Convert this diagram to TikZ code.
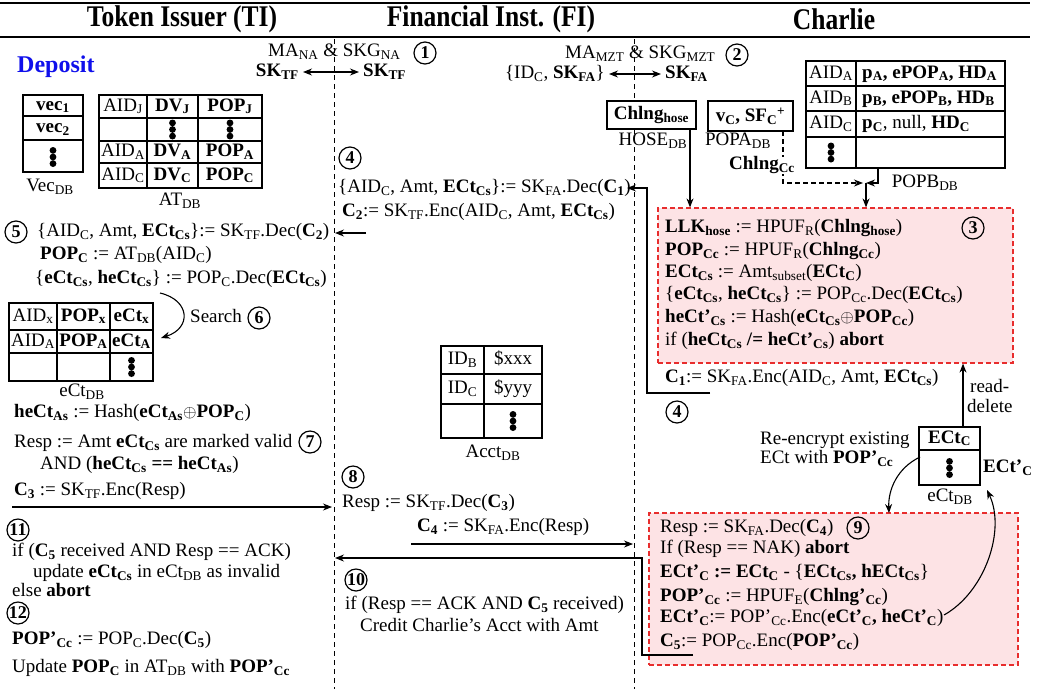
\documentclass[tikz,border=0pt]{standalone}
\usepackage{fontspec}
\setmainfont{Liberation Serif}
\newfontfamily\hdfont[FakeStretch=0.85]{Liberation Serif}
\usetikzlibrary{arrows.meta}
\definecolor{boxpink}{RGB}{253,227,229}
\definecolor{boxred}{RGB}{232,45,45}
\definecolor{depblue}{RGB}{15,15,235}
\newcommand\sbx[1]{\textsubscript{#1}}
\newcommand\bd[1]{\textbf{#1}}
\newcommand\fsz{\fontsize{19}{22}\selectfont}
\tikzset{
 txt/.style={anchor=west,inner sep=0pt,text height=13pt,text depth=4pt,font=\fsz},
 ctxt/.style={txt,anchor=center},
 etxt/.style={txt,anchor=east},
 hdr/.style={inner sep=0pt,font=\hdfont\bfseries\fontsize{30}{32}\selectfont},
 circ/.style={circle,draw,line width=1.2pt,inner sep=0pt,minimum size=22pt,font=\bfseries\fontsize{18}{18}\selectfont},
 conn/.style={line width=1.1pt,-{Stealth[length=9pt,width=7pt]}},
 dconn/.style={line width=1.1pt,{Stealth[length=9pt,width=7pt]}-{Stealth[length=9pt,width=7pt]},shorten <=4pt,shorten >=4pt},
 tbl/.style={line width=1.1pt},
 lane/.style={line width=0.9pt,dash pattern=on 5pt off 4pt},
 redbox/.style={draw=boxred,fill=boxpink,line width=1.2pt,dash pattern=on 5pt off 3pt,inner sep=0pt},
 dbbox/.style={draw,line width=1.1pt,fill=white,inner sep=0pt,font=\fsz},
 bigdots/.pic={\fill (0,-6.6) circle (3.4pt); \fill (0,0) circle (3.4pt); \fill (0,6.6) circle (3.4pt);}
}
\begin{document}
\begin{tikzpicture}[x=1pt,y=-1pt]
\useasboundingbox (0,0) rectangle (1043,689);
% header
\draw[line width=2.5pt] (0,3) -- (1030,3);
\draw[line width=2.5pt] (0,37) -- (1030,37);
\node[hdr] (hTI) at (182,19) {Token Issuer (TI)};
\node[hdr] (hFI) at (491,19) {Financial Inst. (FI)};
\node[hdr] (hCH) at (834,19) {Charlie};
% lanes
\draw[lane] (334,39) -- (334,689);
\draw[lane] (634,39) -- (634,689);
% top keys
\node[txt] (mana) at (268,52) {MA\sbx{NA} \& SKG\sbx{NA}};
\node[circ] (c1) at (425,53) {1};
\node[etxt] (sktfL) at (299,72) {\bd{SK\sbx{TF}}};
\node[txt] (sktfR) at (363,72) {\bd{SK\sbx{TF}}};
\draw[dconn] (sktfL) -- (sktfR);
\node[txt] (mamzt) at (565,54) {MA\sbx{MZT} \& SKG\sbx{MZT}};
\node[circ] (c2) at (737,55) {2};
\node[etxt] (idc) at (605,74) {\{ID\sbx{C}, \bd{SK\sbx{FA}}\}};
\node[txt] (skfa) at (665,74) {\bd{SK\sbx{FA}}};
\draw[dconn] (idc) -- (skfa);
% deposit
\node[anchor=west,inner sep=0pt,font=\bfseries\fontsize{24}{26}\selectfont,text=depblue] (dep) at (17,67) {Deposit};
% Vec DB
\draw[tbl] (23,95) rectangle (83,172) (23,116) -- (83,116) (23,140) -- (83,140);
\node[ctxt] (v1) at (53,105.5) {\bd{vec\sbx{1}}};
\node[ctxt] (v2) at (53,128) {\bd{vec\sbx{2}}};
\pic at (53,157) {bigdots};
\node[ctxt] (vlbl) at (50,187) {Vec\sbx{DB}};
% AT DB
\draw[tbl] (99,95) rectangle (262,188) (99,118) -- (262,118) (99,141) -- (262,141) (99,163) -- (262,163)
  (147,95) -- (147,188) (198,95) -- (198,188);
\node[ctxt] (a11) at (123,106.5) {AID\sbx{J}};
\node[ctxt] (a12) at (172.5,106.5) {\bd{DV\sbx{J}}};
\node[ctxt] (a13) at (230,106.5) {\bd{POP\sbx{J}}};
\pic at (172.5,129.5) {bigdots};
\pic at (230,129.5) {bigdots};
\node[ctxt] (a31) at (123,152) {AID\sbx{A}};
\node[ctxt] (a32) at (172.5,152) {\bd{DV\sbx{A}}};
\node[ctxt] (a33) at (230,152) {\bd{POP\sbx{A}}};
\node[ctxt] (a41) at (123,175.5) {AID\sbx{C}};
\node[ctxt] (a42) at (172.5,175.5) {\bd{DV\sbx{C}}};
\node[ctxt] (a43) at (230,175.5) {\bd{POP\sbx{C}}};
\node[ctxt] (alby) at (180,201) {AT\sbx{DB}};
% step 4 (FI)
\node[circ] (c4a) at (350,158) {4};
\node[txt] (m41) at (338,188) {\{AID\sbx{C}, Amt, \bd{ECt\sbx{Cs}}\}:= SK\sbx{FA}.Dec(\bd{C\sbx{1}})};
\node[txt] (m42) at (342,212) {\bd{C\sbx{2}}:= SK\sbx{TF}.Enc(AID\sbx{C}, Amt, \bd{ECt\sbx{Cs}})};
\coordinate (c2s) at (366,233); \coordinate (c2e) at (335,233);
\draw[conn] (c2s) -- (c2e);
% step 5 (TI)
\node[circ] (c5) at (16,232) {5};
\node[txt] (l51) at (37,232) {\{AID\sbx{C}, Amt, \bd{ECt\sbx{Cs}}\}:= SK\sbx{TF}.Dec(\bd{C\sbx{2}})};
\node[txt] (l52) at (40,255) {\bd{POP\sbx{C}} := AT\sbx{DB}(AID\sbx{C})};
\node[txt] (l53) at (35,279) {\{\bd{eCt\sbx{Cs}}, \bd{heCt\sbx{Cs}}\} := POP\sbx{C}.Dec(\bd{ECt\sbx{Cs}})};
\coordinate (s1) at (160,293); \coordinate (s2) at (161,338);
\draw[conn] (s1) .. controls (190,300) and (192,328) .. (s2);
\node[txt] (srch) at (190,318) {Search};
\node[circ] (c6) at (259,318) {6};
% eCt DB (TI)
\draw[tbl] (9,303) rectangle (153,381) (9,330) -- (153,330) (9,353) -- (153,353) (57,303) -- (57,381) (110,303) -- (110,381);
\node[ctxt] (e11) at (33,316.5) {AID\sbx{x}};
\node[ctxt] (e12) at (83.5,316.5) {\bd{POP\sbx{x}}};
\node[ctxt] (e13) at (131.5,316.5) {\bd{eCt\sbx{x}}};
\node[ctxt] (e21) at (33,341.5) {AID\sbx{A}};
\node[ctxt] (e22) at (83.5,341.5) {\bd{POP\sbx{A}}};
\node[ctxt] (e23) at (131.5,341.5) {\bd{eCt\sbx{A}}};
\pic at (131.5,367) {bigdots};
\node[ctxt] (elbl) at (82,392) {eCt\sbx{DB}};
% steps 6-7
\node[txt] (l61) at (14,413) {\bd{heCt\sbx{As}} := Hash(\bd{eCt\sbx{As}}$\oplus$\bd{POP\sbx{C}})};
\node[txt] (l71) at (14,443) {Resp := Amt \bd{eCt\sbx{Cs}} are marked valid};
\node[circ] (c7) at (310,442) {7};
\node[txt] (l72) at (40,465) {AND (\bd{heCt\sbx{Cs} == heCt\sbx{As}})};
\node[txt] (l73) at (14,491) {\bd{C\sbx{3}} := SK\sbx{TF}.Enc(Resp)};
\coordinate (c3s) at (12,507); \coordinate (c3e) at (332,507);
\draw[conn] (c3s) -- (c3e);
% steps 11-12
\node[circ] (c11) at (18,530) {11};
\node[txt] (l111) at (12,552) {if (\bd{C\sbx{5}} received AND Resp == ACK)};
\node[txt] (l112) at (33,573) {update \bd{eCt\sbx{Cs}} in eCt\sbx{DB} as invalid};
\node[txt] (l113) at (12,592) {else \bd{abort}};
\node[circ] (c12) at (18,613) {12};
\node[txt] (l121) at (12,640) {\bd{POP'\sbx{Cc}} := POP\sbx{C}.Dec(\bd{C\sbx{5}})};
\node[txt] (l122) at (12,668) {Update \bd{POP\sbx{C}} in AT\sbx{DB} with \bd{POP'\sbx{Cc}}};
% Acct DB
\draw[tbl] (441,346) rectangle (542,438) (441,374) -- (542,374) (441,404) -- (542,404) (484,346) -- (484,438);
\node[ctxt] (ac11) at (462.5,360) {ID\sbx{B}};
\node[ctxt] (ac12) at (513,360) {\$xxx};
\node[ctxt] (ac21) at (462.5,389) {ID\sbx{C}};
\node[ctxt] (ac22) at (513,389) {\$yyy};
\pic at (513,421) {bigdots};
\node[ctxt] (aclbl) at (493,453) {Acct\sbx{DB}};
% steps 8, 10
\node[circ] (c8) at (353,477) {8};
\node[txt] (m81) at (342,503) {Resp := SK\sbx{TF}.Dec(\bd{C\sbx{3}})};
\node[txt] (m82) at (417,527) {\bd{C\sbx{4}} := SK\sbx{FA}.Enc(Resp)};
\coordinate (c4s) at (411,544); \coordinate (c4e) at (633,544);
\draw[conn] (c4s) -- (c4e);
\node[circ] (c10) at (356,580) {10};
\node[txt] (m101) at (345,605) {if (Resp == ACK AND \bd{C\sbx{5}} received)};
\node[txt] (m102) at (360,627) {Credit Charlie's Acct with Amt};
% Charlie DBs
\node[dbbox,minimum width=89pt,minimum height=28pt] (hose) at (651.5,115) {\bd{Chlng\sbx{hose}}};
\node[ctxt] (hoselbl) at (653,141) {HOSE\sbx{DB}};
\node[dbbox,minimum width=85pt,minimum height=30pt] (popa) at (750.5,116) {\bd{v\sbx{C}, SF\sbx{C}\textsuperscript{+}}};
\node[ctxt] (popalbl) at (738,141) {POPA\sbx{DB}};
\coordinate (pa) at (783,131); \coordinate (pj) at (863,183);
\draw[line width=1.1pt,dash pattern=on 5pt off 3pt,-{Stealth[length=9pt,width=7pt]}] (pa) |- (pj);
\node[ctxt,fill=white] (chcc) at (762,165) {\bd{Chlng\sbx{Cc}}};
\draw[tbl] (806,61) rectangle (1005,168) (806,86) -- (1005,86) (806,111) -- (1005,111) (806,137) -- (1005,137) (856,61) -- (856,168);
\node[ctxt] (p11) at (831,73.5) {AID\sbx{A}};
\node[txt] (p12) at (862,73.5) {\bd{p\sbx{A}, ePOP\sbx{A}, HD\sbx{A}}};
\node[ctxt] (p21) at (831,98.5) {AID\sbx{B}};
\node[txt] (p22) at (862,98.5) {\bd{p\sbx{B}, ePOP\sbx{B}, HD\sbx{B}}};
\node[ctxt] (p31) at (831,124) {AID\sbx{C}};
\node[txt] (p32) at (862,124) {\bd{p\sbx{C}}, null, \bd{HD\sbx{C}}};
\pic at (831,152.5) {bigdots};
\node[ctxt] (popblbl) at (925,183) {POPB\sbx{DB}};
% box 3
\node[redbox,minimum width=355pt,minimum height=155pt] (box3) at (835.5,285.5) {};
\coordinate (pb1) at (878,168); \coordinate (pbj) at (866,183);
\draw[conn] (pb1) |- (pbj);
\draw[conn] (pbj) -- (pbj |- box3.north);
\coordinate (hb) at (690,129);
\draw[conn] (hb) -- (hb |- box3.north);
\node[txt] (b31) at (665,228) {\bd{LLK\sbx{hose}} := HPUF\sbx{R}(\bd{Chlng\sbx{hose}})};
\node[txt] (b32) at (665,251) {\bd{POP\sbx{Cc}} := HPUF\sbx{R}(\bd{Chlng\sbx{Cc}})};
\node[txt] (b33) at (665,273) {\bd{ECt\sbx{Cs}} := Amt\sbx{subset}(\bd{ECt\sbx{C}})};
\node[txt] (b34) at (665,295) {\{\bd{eCt\sbx{Cs}}, \bd{heCt\sbx{Cs}}\} := POP\sbx{Cc}.Dec(\bd{ECt\sbx{Cs}})};
\node[txt] (b35) at (665,318) {\bd{heCt'\sbx{Cs}} := Hash(\bd{eCt\sbx{Cs}}$\oplus$\bd{POP\sbx{Cc}})};
\node[txt] (b36) at (665,341) {if (\bd{heCt\sbx{Cs} /= heCt'\sbx{Cs}}) \bd{abort}};
\node[circ] (c3) at (973,228) {3};
% C1
\node[txt] (c1t) at (665,378) {\bd{C\sbx{1}}:= SK\sbx{FA}.Enc(AID\sbx{C}, Amt, \bd{ECt\sbx{Cs}})};
\coordinate (c1a) at (710,393); \coordinate (c1k) at (647,188); \coordinate (c1e) at (627,188);
\draw[conn] (c1a) -| (c1k) -- (c1e);
\node[circ] (c4b) at (677,412) {4};
% eCt DB Charlie
\draw[tbl] (919,427) rectangle (980,485) (919,450) -- (980,450);
\node[ctxt] (ectc) at (949.5,438.5) {\bd{ECt\sbx{C}}};
\pic at (949.5,468) {bigdots};
\node[ctxt] (ectlbl) at (950,497) {eCt\sbx{DB}};
\node[txt] (ectp) at (983,468) {\bd{ECt'\sbx{C}}};
\node[txt] (rd1) at (970,388) {read-};
\node[txt] (rd2) at (967,408) {delete};
\coordinate (rds) at (963,427);
\draw[conn] (rds) -- (rds |- box3.south);
\node[txt] (re1) at (760,440) {Re-encrypt existing};
\node[txt] (re2) at (760,459) {ECt with \bd{POP'\sbx{Cc}}};
% box 9
\node[redbox,minimum width=369pt,minimum height=152pt] (box9) at (833.5,589) {};
\node[txt] (b91) at (660,528) {Resp := SK\sbx{FA}.Dec(\bd{C\sbx{4}})};
\node[circ] (c9) at (858,528) {9};
\node[txt] (b92) at (660,549) {If (Resp == NAK) \bd{abort}};
\node[txt] (b93) at (660,573) {\bd{ECt'\sbx{C} := ECt\sbx{C}} - \{\bd{ECt\sbx{Cs}, hECt\sbx{Cs}}\}};
\node[txt] (b94) at (660,597) {\bd{POP'\sbx{Cc}} := HPUF\sbx{E}(\bd{Chlng'\sbx{Cc}})};
\node[txt] (b95) at (660,618) {\bd{ECt'\sbx{C}}:= POP'\sbx{Cc}.Enc(\bd{eCt'\sbx{C}, heCt'\sbx{C}})};
\node[txt] (b96) at (660,642) {\bd{C\sbx{5}}:= POP\sbx{Cc}.Enc(\bd{POP'\sbx{Cc}})};
\coordinate (ra) at (920,457); \coordinate (rb) at (889,513);
\draw[conn] (ra) .. controls (897,468) and (888,490) .. (rb);
\coordinate (ea) at (944,615); \coordinate (eb) at (987,490);
\draw[conn] (ea) .. controls (985,592) and (1006,530) .. (eb);
% C5
\coordinate (c5a) at (693,655); \coordinate (c5k) at (642,558); \coordinate (c5e) at (335,558);
\draw[conn] (c5a) -| (c5k) -- (c5e);
\end{tikzpicture}
\end{document}
